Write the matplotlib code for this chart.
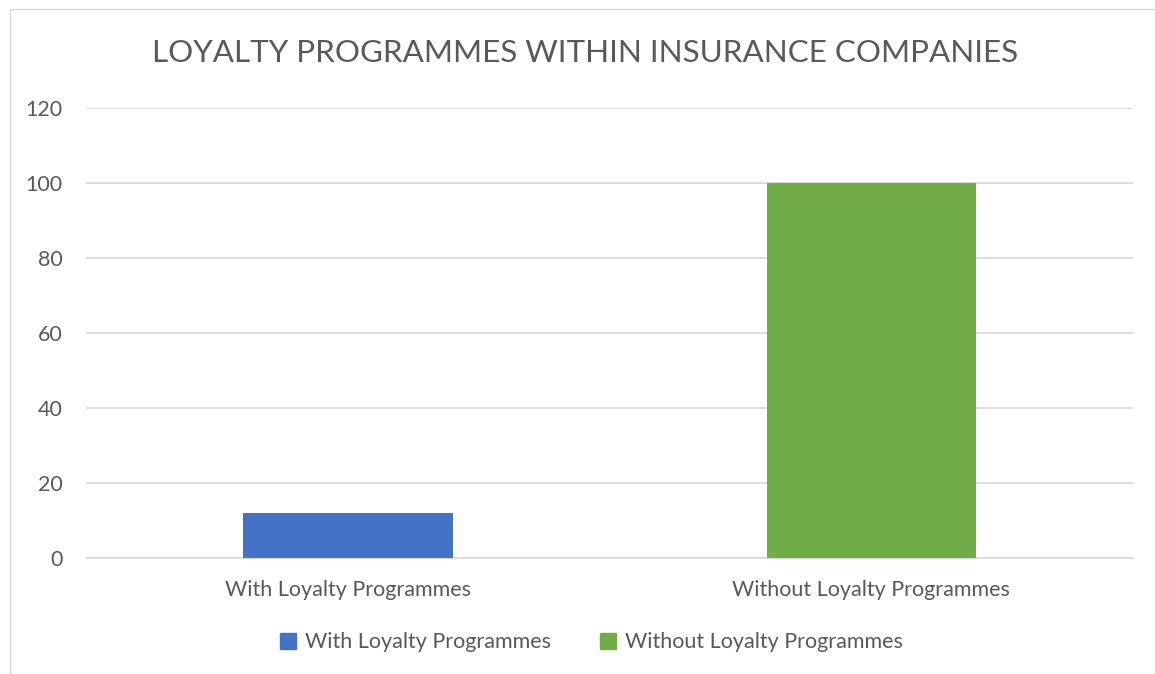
import matplotlib
matplotlib.use("Agg")
import matplotlib.pyplot as plt
from matplotlib.patches import Rectangle

categories = ["With Loyalty Programmes", "Without Loyalty Programmes"]
values = [12, 100]
colors = ["#4472C4", "#70AD47"]
yticks = [0, 20, 40, 60, 80, 100, 120]
title = "LOYALTY PROGRAMMES WITHIN INSURANCE COMPANIES"

plt.rcParams["font.family"] = ["Lato", "DejaVu Sans"]
TXT = "#595959"

fig = plt.figure(figsize=(11.55, 6.74), dpi=100)
ax = fig.add_axes([0.0745, 0.172, 0.9065, 0.668])

x = range(len(categories))
bars = ax.bar(x, values, width=0.4, color=colors, label=categories, zorder=3)
ax.set_xlim(-0.5, 1.5)
ax.set_ylim(0, 120)
ax.set_yticks(yticks)
ax.set_xticks(list(x))
ax.set_xticklabels(categories, fontsize=15.5, color=TXT)
ax.tick_params(axis="y", labelsize=15.5, labelcolor=TXT, length=0, pad=17)
ax.tick_params(axis="x", length=0, pad=16)
ax.grid(axis="y", color="#D9D9D9", linewidth=1.3, zorder=0)
for s in ["top", "right", "left"]:
    ax.spines[s].set_visible(False)
ax.spines["bottom"].set_color("#D9D9D9")
ax.spines["bottom"].set_linewidth(1.3)

fig.text(0.5065, 0.921, title, ha="center", va="center", fontsize=22.6, color=TXT)

handles = [Rectangle((0, 0), 1, 1, color=c) for c in colors]
fig.legend(handles, categories, loc="center", bbox_to_anchor=(0.512, 0.047),
           ncol=2, frameon=False, fontsize=15.5, labelcolor=TXT,
           handlelength=0.75, handleheight=0.75, handletextpad=0.4, columnspacing=2.3)

# chart border
fig.patches.append(Rectangle((10 / 1155, -0.1), 1.2, 1 - 9 / 674 + 0.1, transform=fig.transFigure,
                             fill=False, edgecolor="#D9D9D9", linewidth=1))

fig.savefig("out.png", dpi=100)
